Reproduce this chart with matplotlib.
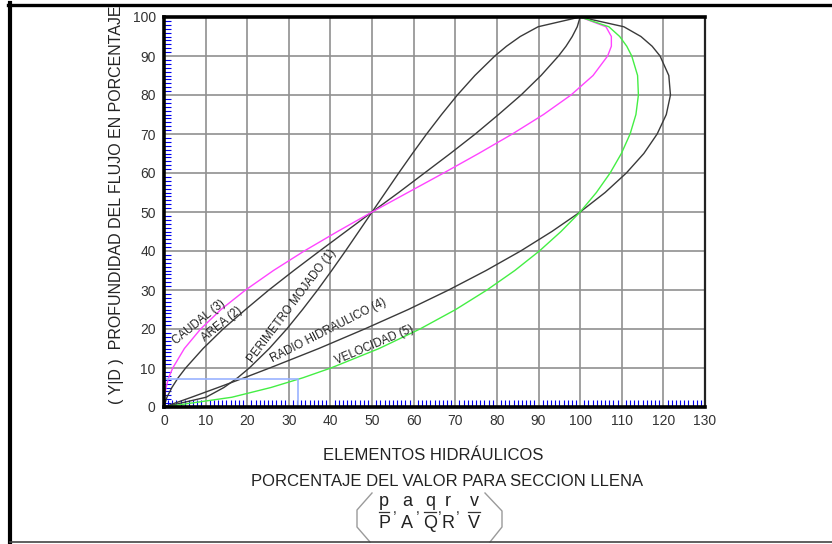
import matplotlib
matplotlib.use("Agg")
import matplotlib.pyplot as plt
from matplotlib.lines import Line2D
from matplotlib.ticker import FixedLocator

# Relative depth of flow y/D (%)
depth = [0, 2.5, 5, 7.5, 10, 15, 20, 25, 30, 35, 40, 45, 50,
         55, 60, 65, 70, 75, 80, 85, 90, 92.5, 95, 97.5, 100]

# Hydraulic elements as % of the full-section value
perimetro = [0, 10.1, 14.4, 17.7, 20.5, 25.3, 29.5, 33.3, 36.9, 40.3, 43.6, 46.8, 50,
             53.2, 56.4, 59.7, 63.1, 66.7, 70.5, 74.7, 79.5, 82.3, 85.6, 89.9, 100]
area = [0, 0.7, 1.9, 3.4, 5.2, 9.4, 14.2, 19.6, 25.2, 31.2, 37.4, 43.7, 50,
        56.4, 62.6, 68.8, 74.8, 80.4, 85.8, 90.6, 94.8, 96.6, 98.1, 99.3, 100]
caudal = [0, 0.1, 0.5, 1.1, 2.1, 4.9, 8.8, 13.7, 19.6, 26.3, 33.7, 41.7, 50,
          58.6, 67.2, 75.6, 83.7, 91.2, 97.8, 103.1, 106.6, 107.5, 107.5, 106.2, 100]
radio = [0, 6.6, 13.0, 19.3, 25.4, 37.2, 48.2, 58.7, 68.4, 77.4, 85.7, 93.2, 100,
         106.0, 111.1, 115.3, 118.5, 120.7, 121.7, 121.3, 119.2, 117.3, 114.6, 110.5, 100]
velocidad = [0, 16.3, 25.7, 33.4, 40.1, 51.7, 61.5, 70.1, 77.6, 84.3, 90.2, 95.4, 100,
             103.9, 107.2, 109.9, 112.0, 113.4, 114.0, 113.8, 112.4, 111.2, 109.5, 106.9, 100]

# Reading guide drawn on the chart (element %, depth %)
guide_x = 32.3
guide_y = 7.1

x_ticks = list(range(0, 131, 10))
y_ticks = list(range(0, 101, 10))

plt.rcParams['font.family'] = ['Liberation Sans', 'DejaVu Sans']

W, H = 832, 544
fig = plt.figure(figsize=(W / 100, H / 100), dpi=100)


def fx(px):
    return px / W


def fy(py):
    return 1 - py / H


ax = fig.add_axes([fx(164), fy(407), fx(705) - fx(164), fy(17) - fy(407)])
ax.set_xlim(0, 130)
ax.set_ylim(0, 100)

ax.set_xticks(x_ticks)
ax.set_yticks(y_ticks)
ax.grid(True, which='major', color='#909090', lw=1.2)
ax.set_axisbelow(True)
ax.tick_params(which='major', length=0, labelsize=10, labelcolor='#333333')
ax.tick_params(axis='x', which='major', pad=5)
ax.tick_params(axis='y', which='major', pad=6)

xminor = [i for i in range(1, 130) if i % 10]
yminor = [i for i in range(1, 100) if i % 10]
ax.xaxis.set_minor_locator(FixedLocator(xminor))
ax.yaxis.set_minor_locator(FixedLocator(yminor))
ax.tick_params(which='minor', direction='in', length=5, width=0.8, color='#0000ee')
for t, v in zip(ax.xaxis.get_minor_ticks(len(xminor)), xminor):
    if v % 5 == 0:
        t.tick1line.set_color('#ee0000')
for t, v in zip(ax.yaxis.get_minor_ticks(len(yminor)), yminor):
    if v % 5 == 0:
        t.tick1line.set_color('#ee0000')

for side in ('left', 'bottom', 'top'):
    ax.spines[side].set_linewidth(2.6)
    ax.spines[side].set_color('black')
ax.spines['right'].set_linewidth(1.6)
ax.spines['right'].set_color('#222222')

# Curves
ax.plot(perimetro, depth, color='#3a3a3a', lw=1.0)
ax.plot(area, depth, color='#3a3a3a', lw=1.0)
ax.plot(radio, depth, color='#3a3a3a', lw=1.0)
ax.plot(caudal, depth, color='#ff44ff', lw=1.0)
ax.plot(velocidad, depth, color='#44ee44', lw=1.0)

# Reading guide
ax.plot([0, guide_x, guide_x], [guide_y, guide_y, 0], color='#99b3ff', lw=1.2)

# Curve labels
lab = dict(fontsize=8.3, color='#222222', ha='center', va='center', rotation_mode='anchor')
ax.text(8.4, 21.7, 'CAUDAL (3)', rotation=39, **lab)
ax.text(14.0, 21.3, 'AREA (2)', rotation=39, **lab)
ax.text(30.7, 26.0, 'PERIMETRO MOJADO (1)', rotation=53, **lab)
ax.text(39.6, 19.6, 'RADIO HIDRAULICO (4)', rotation=27, **lab)
ax.text(50.5, 15.9, 'VELOCIDAD (5)', rotation=23, **lab)

# Axis titles
fig.text(fx(117), fy(205), '( Y|D )  PROFUNDIDAD DEL FLUJO EN PORCENTAJE',
         rotation=90, ha='center', va='center', fontsize=11.5, color='#222222')
fig.text(fx(433), fy(455), 'ELEMENTOS HIDRÁULICOS', ha='center', va='center',
         fontsize=12, color='#222222')
fig.text(fx(447), fy(481), 'PORCENTAJE DEL VALOR PARA SECCION LLENA', ha='center',
         va='center', fontsize=12, color='#222222')

# Ratio notation p/P, a/A, q/Q, r/R, v/V
num = ['p', 'a', 'q', 'r', 'v']
den = ['P', 'A', 'Q', 'R', 'V']
cols = [384, 407, 430, 448, 474]
for n, d, c in zip(num, den, cols):
    fig.text(fx(c), fy(506), n, ha='center', va='baseline', fontsize=13, color='#222222')
    fig.text(fx(c), fy(528), d, ha='center', va='baseline', fontsize=13, color='#222222')
for c in (395, 418, 440, 458):
    fig.text(fx(c), fy(513), ',', ha='center', va='baseline', fontsize=10, color='#222222')
for c0, c1 in ((379, 389), (424, 436), (468, 480)):
    fig.add_artist(Line2D([fx(c0), fx(c1)], [fy(512), fy(512)], transform=fig.transFigure,
                          color='#333333', lw=0.9))
fig.add_artist(Line2D([fx(372), fx(357), fx(357), fx(370)], [fy(493), fy(510), fy(527), fy(542)],
                      transform=fig.transFigure, color='#9a9a9a', lw=1.0))
fig.add_artist(Line2D([fx(485), fx(502), fx(502), fx(490)], [fy(493), fy(511), fy(527), fy(542)],
                      transform=fig.transFigure, color='#9a9a9a', lw=1.0))

# Page frame
fig.add_artist(Line2D([fx(10), fx(10)], [fy(3), fy(544)], transform=fig.transFigure,
                      color='black', lw=3.0))
fig.add_artist(Line2D([fx(8), fx(832)], [fy(4.5), fy(4.5)], transform=fig.transFigure,
                      color='black', lw=2.4))
fig.add_artist(Line2D([fx(10), fx(832)], [fy(542), fy(542)], transform=fig.transFigure,
                      color='#444444', lw=1.2))

fig.savefig('out.png', dpi=100)
